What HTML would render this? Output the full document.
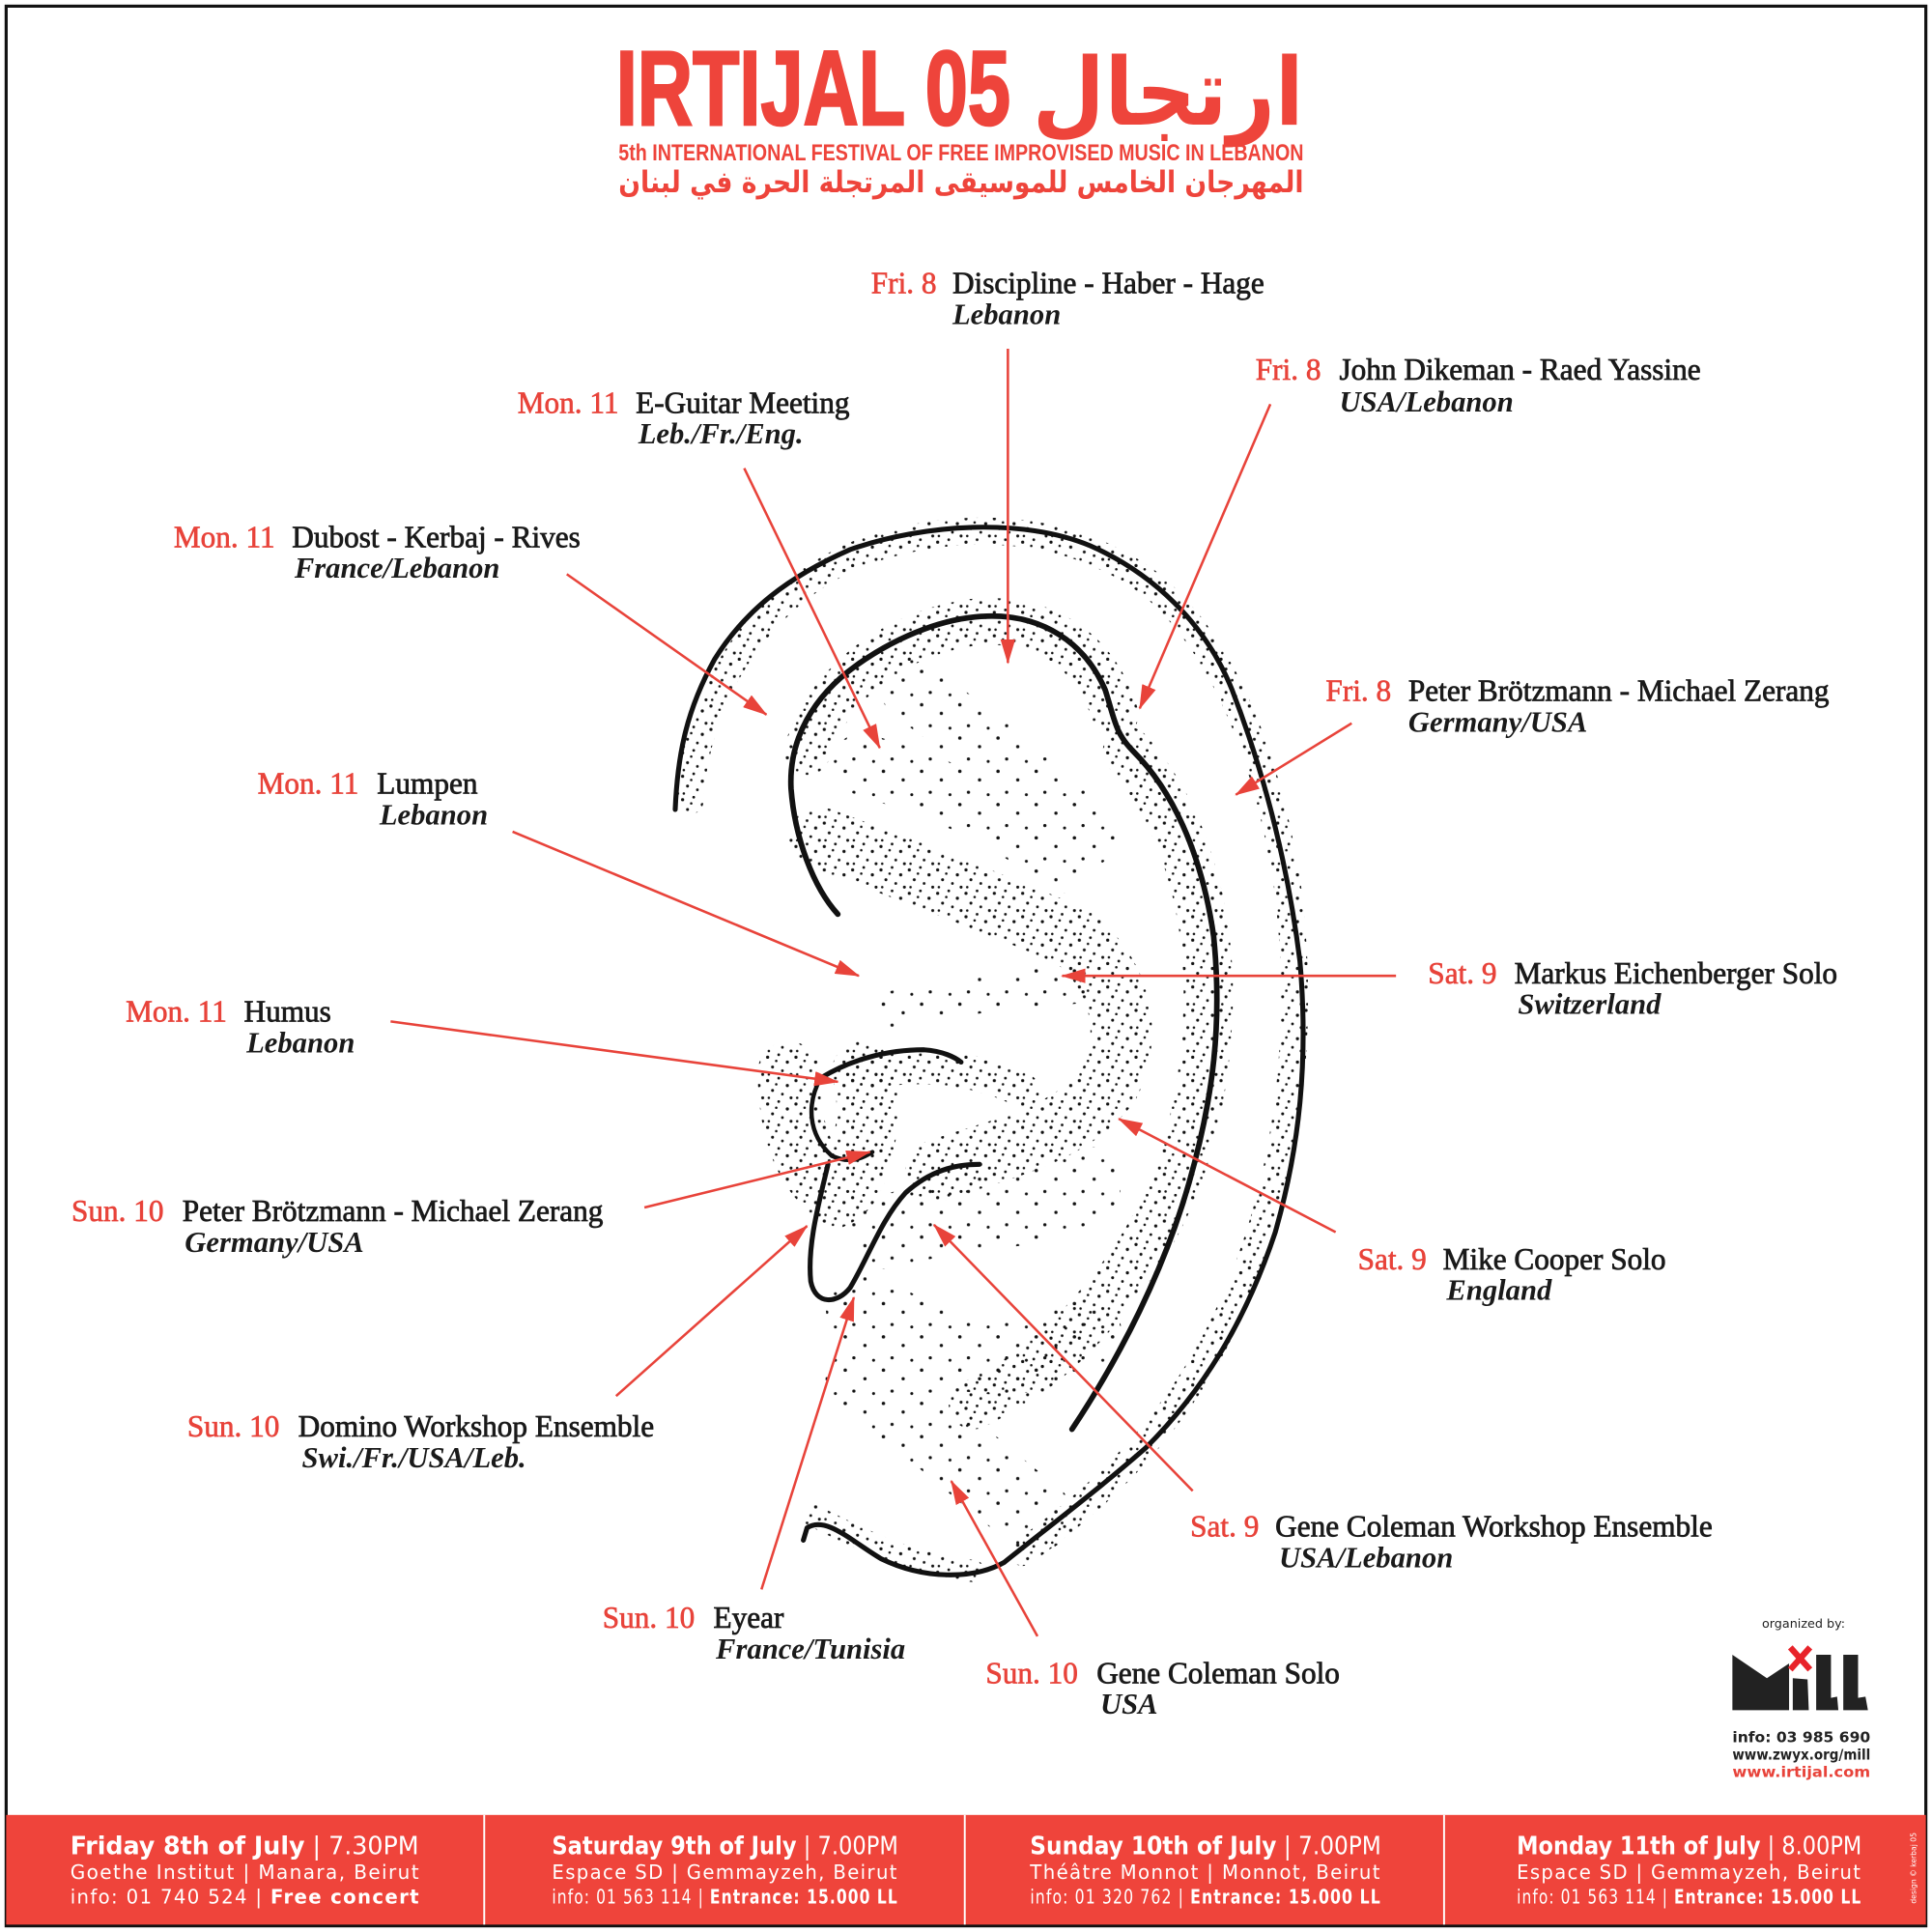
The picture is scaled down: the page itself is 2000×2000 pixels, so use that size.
<!DOCTYPE html>
<html><head><meta charset="utf-8"><style>
html,body{margin:0;padding:0;background:#fff;width:2000px;height:2000px;overflow:hidden}
svg{display:block}
.r{fill:#e8433a;stroke:#e8433a;stroke-width:0.5;font-family:"Liberation Serif",serif;font-size:24.5px}
.n{fill:#1a1a1a;stroke:#1a1a1a;stroke-width:0.6;font-family:"Liberation Serif",serif;font-size:24.5px}
.i{fill:#1a1a1a;font-family:"Liberation Serif",serif;font-size:24px;font-style:italic;font-weight:bold}
.b1{fill:#fff;font-family:"DejaVu Sans Condensed","DejaVu Sans",sans-serif;font-size:20px}
.b2{fill:#fff;font-family:"DejaVu Sans Condensed","DejaVu Sans",sans-serif;font-size:16px;letter-spacing:1px}
</style></head><body>
<svg width="2000" height="2000" viewBox="0 0 1568 1568" xmlns="http://www.w3.org/2000/svg">
<defs>
<pattern id="st" width="23" height="19" patternUnits="userSpaceOnUse">
<circle cx="2" cy="3" r="1.3" fill="#111"/><circle cx="11" cy="1" r="1.1" fill="#111"/>
<circle cx="18" cy="7" r="1.3" fill="#111"/><circle cx="6" cy="11" r="1.2" fill="#111"/>
<circle cx="14" cy="14" r="1.1" fill="#111"/><circle cx="21" cy="17" r="1.2" fill="#111"/>
<circle cx="3" cy="17" r="1" fill="#111"/><circle cx="9" cy="6" r="1" fill="#111"/>
</pattern>
<pattern id="st2" width="31" height="27" patternUnits="userSpaceOnUse">
<circle cx="4" cy="5" r="1.4" fill="#111"/><circle cx="20" cy="12" r="1.3" fill="#111"/>
<circle cx="11" cy="22" r="1.3" fill="#111"/><circle cx="27" cy="24" r="1.2" fill="#111"/>
</pattern>
<marker id="ah" viewBox="0 0 20 12" refX="19" refY="6" markerWidth="20" markerHeight="12" markerUnits="userSpaceOnUse" orient="auto">
<path d="M0,0 L20,6 L0,12 Z" fill="#e8433a"/></marker>
</defs>
<rect x="5" y="5" width="1558" height="1558" fill="#fff" stroke="#111" stroke-width="2.5"/>

<!-- header -->
<text x="500" y="101" textLength="320" lengthAdjust="spacingAndGlyphs" style="font-family:'Liberation Sans Narrow','Liberation Sans',sans-serif;font-weight:bold;font-size:86px;fill:#ee443b;stroke:#ee443b;stroke-width:2">IRTIJAL 05</text>
<text x="838" y="101" textLength="220" lengthAdjust="spacingAndGlyphs" style="font-family:'DejaVu Sans',sans-serif;font-weight:bold;font-size:76px;fill:#ee443b">ارتجال</text>
<text x="502" y="130" textLength="556" lengthAdjust="spacingAndGlyphs" style="font-family:'Liberation Sans Narrow','Liberation Sans',sans-serif;font-weight:bold;font-size:19px;fill:#ee443b">5th INTERNATIONAL FESTIVAL OF FREE IMPROVISED MUSIC IN LEBANON</text>
<text x="502" y="156" textLength="556" lengthAdjust="spacingAndGlyphs" style="font-family:'DejaVu Sans',sans-serif;font-weight:bold;font-size:24px;fill:#ee443b">المهرجان الخامس للموسيقى المرتجلة الحرة في لبنان</text>

<!-- ear stipple -->
<g fill="none" stroke-linecap="round">
<path d="M560,650 C565,560 620,480 700,448 C780,420 870,425 935,475 C995,525 1030,620 1045,720 C1060,840 1045,960 1000,1060 C960,1150 900,1210 830,1260" stroke="url(#st)" stroke-width="22"/>
<path d="M655,610 C670,560 720,515 790,505 C850,500 890,530 905,580" stroke="url(#st)" stroke-width="38"/>
<path d="M915,610 C960,660 985,740 980,830 C975,920 950,990 900,1050 C860,1100 830,1120 790,1140" stroke="url(#st)" stroke-width="40"/>
<path d="M665,680 C720,700 800,730 870,760 C910,790 920,840 900,880 C870,920 820,930 760,950" stroke="url(#st)" stroke-width="50"/>
<path d="M640,870 C640,910 650,950 680,970 C700,960 710,900 700,870" stroke="url(#st)" stroke-width="50"/>
<path d="M700,870 C760,860 800,870 830,885" stroke="url(#st)" stroke-width="28"/>
<path d="M720,820 C780,810 830,800 870,800" stroke="url(#st2)" stroke-width="30"/>
<path d="M700,1060 C760,1100 820,1120 880,1080 M700,1120 C760,1160 800,1200 840,1230 M720,1000 C780,980 840,990 880,960" stroke="url(#st2)" stroke-width="60"/>
<path d="M740,560 C790,600 840,620 880,680 M700,620 C760,640 820,660 860,700" stroke="url(#st2)" stroke-width="50"/>
<path d="M660,1230 C700,1250 740,1270 790,1275" stroke="url(#st)" stroke-width="18"/>
</g>
<!-- ear outlines -->
<g fill="none" stroke="#111" stroke-linecap="round" stroke-linejoin="round">
<path d="M548,657 C550,610 558,575 580,535 C605,495 640,468 690,446 C750,425 830,420 885,443 C935,465 978,505 1000,560 C1025,625 1045,700 1055,780 C1062,860 1055,930 1035,1000 C1010,1075 975,1130 930,1175 C890,1210 850,1240 815,1268 C790,1282 750,1282 715,1265 C690,1250 670,1230 655,1240 L652,1250" stroke-width="4"/>
<path d="M680,742 C660,720 645,680 642,640 C640,600 660,565 695,540 C730,515 770,500 805,500 C845,500 880,520 897,560 C905,585 905,595 920,610 C950,640 975,690 985,760 C992,830 985,890 965,960 C945,1030 910,1100 870,1160" stroke-width="4.5"/>
<path d="M666,875 C690,860 720,852 750,852 C765,853 775,858 780,862" stroke-width="4"/>
<path d="M666,875 C655,895 655,920 675,938 C690,945 700,940 708,935" stroke-width="3.5"/>
<path d="M672,945 C665,975 655,1010 658,1040 C662,1060 680,1058 690,1045 C705,1020 715,990 735,968 C755,950 775,945 795,945" stroke-width="4"/>
</g>

<!-- arrows -->
<g stroke="#e8433a" stroke-width="2" marker-end="url(#ah)">
<line x1="818" y1="283" x2="818" y2="538"/>
<line x1="1031" y1="328" x2="925" y2="575"/>
<line x1="604" y1="380" x2="714" y2="607"/>
<line x1="460" y1="466" x2="622" y2="580"/>
<line x1="1097" y1="587" x2="1003" y2="645"/>
<line x1="416" y1="675" x2="697" y2="792"/>
<line x1="1133" y1="792" x2="862" y2="792"/>
<line x1="317" y1="829" x2="680" y2="878"/>
<line x1="523" y1="980" x2="706" y2="935"/>
<line x1="1084" y1="1000" x2="908" y2="908"/>
<line x1="500" y1="1133" x2="655" y2="995"/>
<line x1="968" y1="1210" x2="758" y2="994"/>
<line x1="618" y1="1290" x2="693" y2="1053"/>
<line x1="842" y1="1328" x2="772" y2="1202"/>
</g>

<!-- labels -->
<text class="r" x="707" y="238">Fri. 8</text><text class="n" x="773" y="238">Discipline - Haber - Hage</text><text class="i" x="773" y="263">Lebanon</text>
<text class="r" x="1019" y="308">Fri. 8</text><text class="n" x="1087" y="308">John Dikeman - Raed Yassine</text><text class="i" x="1087" y="334">USA/Lebanon</text>
<text class="r" x="420" y="335">Mon. 11</text><text class="n" x="516" y="335">E-Guitar Meeting</text><text class="i" x="518" y="360">Leb./Fr./Eng.</text>
<text class="r" x="141" y="444">Mon. 11</text><text class="n" x="237" y="444">Dubost - Kerbaj - Rives</text><text class="i" x="239" y="469">France/Lebanon</text>
<text class="r" x="1076" y="569">Fri. 8</text><text class="n" x="1143" y="569">Peter Brötzmann - Michael Zerang</text><text class="i" x="1143" y="594">Germany/USA</text>
<text class="r" x="209" y="644">Mon. 11</text><text class="n" x="306" y="644">Lumpen</text><text class="i" x="308" y="669">Lebanon</text>
<text class="r" x="1159" y="798">Sat. 9</text><text class="n" x="1229" y="798">Markus Eichenberger Solo</text><text class="i" x="1232" y="823">Switzerland</text>
<text class="r" x="102" y="829">Mon. 11</text><text class="n" x="198" y="829">Humus</text><text class="i" x="200" y="854">Lebanon</text>
<text class="r" x="58" y="991">Sun. 10</text><text class="n" x="148" y="991">Peter Brötzmann - Michael Zerang</text><text class="i" x="150" y="1016">Germany/USA</text>
<text class="r" x="1102" y="1030">Sat. 9</text><text class="n" x="1171" y="1030">Mike Cooper Solo</text><text class="i" x="1174" y="1055">England</text>
<text class="r" x="152" y="1166">Sun. 10</text><text class="n" x="242" y="1166">Domino Workshop Ensemble</text><text class="i" x="245" y="1191">Swi./Fr./USA/Leb.</text>
<text class="r" x="966" y="1247">Sat. 9</text><text class="n" x="1035" y="1247">Gene Coleman Workshop Ensemble</text><text class="i" x="1038" y="1272">USA/Lebanon</text>
<text class="r" x="489" y="1321">Sun. 10</text><text class="n" x="579" y="1321">Eyear</text><text class="i" x="581" y="1346">France/Tunisia</text>
<text class="r" x="800" y="1366">Sun. 10</text><text class="n" x="890" y="1366">Gene Coleman Solo</text><text class="i" x="893" y="1391">USA</text>

<!-- mill logo -->
<text x="1430" y="1321" style="font-family:'DejaVu Sans',sans-serif;font-size:10px;fill:#222">organized by:</text>
<path d="M1406,1343 L1434,1362 L1452,1350 L1452,1388 L1406,1388 Z" fill="#222"/>
<path d="M1455,1362 L1467,1363 L1468,1388 L1455,1388 Z" fill="#222"/>
<path d="M1474,1343 L1486,1343 L1486,1378 L1491,1377 L1492,1388 L1474,1388 Z" fill="#222"/>
<path d="M1496,1343 L1508,1343 L1508,1378 L1514,1377 L1516,1388 L1496,1388 Z" fill="#222"/>
<g stroke="#e8232a" stroke-width="5"><line x1="1453" y1="1337" x2="1469" y2="1355"/><line x1="1469" y1="1337" x2="1453" y2="1355"/></g>
<text x="1406" y="1414" textLength="112" lengthAdjust="spacingAndGlyphs" style="font-family:'DejaVu Sans',sans-serif;font-weight:bold;font-size:12px;fill:#222">info: 03 985 690</text>
<text x="1406" y="1428" textLength="112" lengthAdjust="spacingAndGlyphs" style="font-family:'DejaVu Sans',sans-serif;font-weight:bold;font-size:12px;fill:#222">www.zwyx.org/mill</text>
<text x="1406" y="1442" textLength="112" lengthAdjust="spacingAndGlyphs" style="font-family:'DejaVu Sans',sans-serif;font-weight:bold;font-size:12px;fill:#e8433a">www.irtijal.com</text>

<!-- bottom bar -->
<rect x="5" y="1473" width="1558" height="89" fill="#ef443b"/>
<g stroke="#fff" stroke-width="1.5"><line x1="393" y1="1473" x2="393" y2="1562"/><line x1="783" y1="1473" x2="783" y2="1562"/><line x1="1172" y1="1473" x2="1172" y2="1562"/></g>
<g>
<text class="b1" x="57" y="1505" textLength="283" lengthAdjust="spacingAndGlyphs"><tspan font-weight="bold">Friday 8th of July</tspan> | 7.30PM</text>
<text class="b2" x="57" y="1525" textLength="284" lengthAdjust="spacingAndGlyphs">Goethe Institut | Manara, Beirut</text>
<text class="b2" x="57" y="1545" textLength="284" lengthAdjust="spacingAndGlyphs">info: 01 740 524 | <tspan font-weight="bold">Free concert</tspan></text>
<text class="b1" x="448" y="1505" textLength="281" lengthAdjust="spacingAndGlyphs"><tspan font-weight="bold">Saturday 9th of July</tspan> | 7.00PM</text>
<text class="b2" x="448" y="1525" textLength="281" lengthAdjust="spacingAndGlyphs">Espace SD | Gemmayzeh, Beirut</text>
<text class="b2" x="448" y="1545" textLength="281" lengthAdjust="spacingAndGlyphs">info: 01 563 114 | <tspan font-weight="bold">Entrance: 15.000 LL</tspan></text>
<text class="b1" x="836" y="1505" textLength="285" lengthAdjust="spacingAndGlyphs"><tspan font-weight="bold">Sunday 10th of July</tspan> | 7.00PM</text>
<text class="b2" x="836" y="1525" textLength="285" lengthAdjust="spacingAndGlyphs">Théâtre Monnot | Monnot, Beirut</text>
<text class="b2" x="836" y="1545" textLength="285" lengthAdjust="spacingAndGlyphs">info: 01 320 762 | <tspan font-weight="bold">Entrance: 15.000 LL</tspan></text>
<text class="b1" x="1231" y="1505" textLength="280" lengthAdjust="spacingAndGlyphs"><tspan font-weight="bold">Monday 11th of July</tspan> | 8.00PM</text>
<text class="b2" x="1231" y="1525" textLength="280" lengthAdjust="spacingAndGlyphs">Espace SD | Gemmayzeh, Beirut</text>
<text class="b2" x="1231" y="1545" textLength="280" lengthAdjust="spacingAndGlyphs">info: 01 563 114 | <tspan font-weight="bold">Entrance: 15.000 LL</tspan></text>
</g>
<text transform="translate(1555,1545) rotate(-90)" style="font-family:'DejaVu Sans',sans-serif;font-size:6px;fill:#fff">design © kerbaj 05</text>
</svg>
</body></html>
